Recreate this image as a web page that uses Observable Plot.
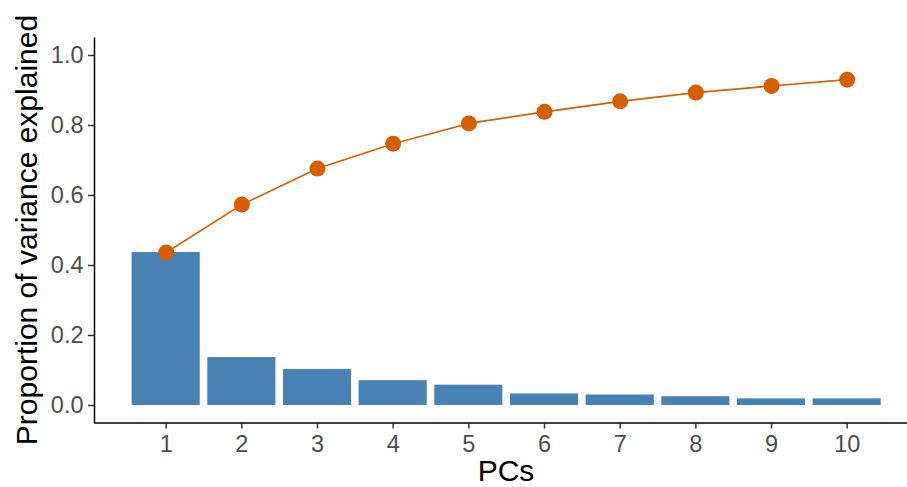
<!DOCTYPE html>
<html>
<head>
<meta charset="utf-8">
<script src="https://cdn.jsdelivr.net/npm/d3@7"></script>
<script src="https://cdn.jsdelivr.net/npm/@observablehq/plot@0.6"></script>
<style>
  html, body { margin: 0; padding: 0; background: #fff; }
  #chart svg { display: block; }
</style>
</head>
<body>
<div id="chart"></div>
<script>
const pcs = [1, 2, 3, 4, 5, 6, 7, 8, 9, 10];
const proportion = [0.437, 0.137, 0.103, 0.071, 0.058, 0.033, 0.030, 0.025, 0.019, 0.019];
const cumulative = [0.437, 0.574, 0.677, 0.748, 0.806, 0.839, 0.869, 0.894, 0.913, 0.931];
const yTicks = [0, 0.2, 0.4, 0.6, 0.8, 1.0];
const xTitle = "PCs";
const yTitle = "Proportion of variance explained";

const data = pcs.map((pc, i) => ({pc, prop: proportion[i], cum: cumulative[i]}));

const W = 907, H = 487;
const font = "'Liberation Sans', Arial, sans-serif";

const plot = Plot.plot({
  width: W,
  height: H,
  marginLeft: 94,
  marginRight: 0,
  marginTop: 37.5,
  marginBottom: 64.5,
  style: {fontFamily: font, background: "#fff", overflow: "visible"},
  x: {type: "linear", domain: [0.053, 10.797]},
  y: {domain: [-0.05, 1.05]},
  marks: [
    Plot.rectY(data, {x1: d => d.pc - 0.45, x2: d => d.pc + 0.45, y1: 0, y2: "prop", fill: "#4682B4"}),
    Plot.line(data, {x: "pc", y: "cum", stroke: "#D55E00", strokeWidth: 1.6}),
    Plot.dot(data, {x: "pc", y: "cum", r: 8, fill: "#D55E00"}),
    Plot.ruleY([-0.05], {stroke: "#000", strokeWidth: 1.5}),
    Plot.ruleX([0.053], {stroke: "#000", strokeWidth: 1.5}),
    Plot.axisX({ticks: pcs, tickFormat: d => String(d), tickSize: 6, tickPadding: 6.5, fontSize: 23.5, stroke: "#333", fill: "#4D4D4D", strokeWidth: 1.5, label: null}),
    Plot.axisY({ticks: yTicks, tickFormat: d3.format(".1f"), tickSize: 6, tickPadding: 5, fontSize: 23.5, stroke: "#333", fill: "#4D4D4D", strokeWidth: 1.5, label: null})
  ]
});

const svg = d3.select(plot);
svg.append("text")
  .attr("x", 506).attr("y", 481)
  .attr("text-anchor", "middle")
  .attr("font-size", 30)
  .attr("font-family", font)
  .attr("fill", "#000")
  .text(xTitle);
svg.append("text")
  .attr("transform", "translate(37,230) rotate(-90)")
  .attr("text-anchor", "middle")
  .attr("font-size", 30)
  .attr("font-family", font)
  .attr("fill", "#000")
  .text(yTitle);

document.getElementById("chart").appendChild(plot);
</script>
</body>
</html>
